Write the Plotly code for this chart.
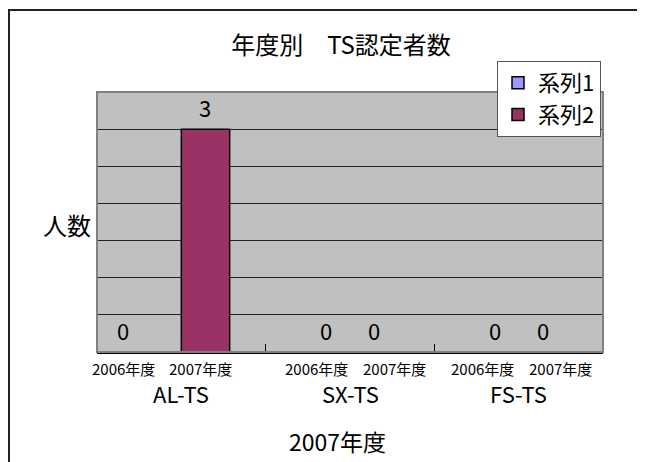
import plotly.graph_objects as go

# ---- data ----
groups = ["AL-TS", "SX-TS", "FS-TS"]
sub_labels = ["2006年度", "2007年度"]
series_names = ["系列1", "系列2"]
series1 = [0, 0, 0]
series2 = [3, 0, 0]
title_text = "年度別\u3000TS認定者数"
y_title = "人数"
x_title = "2007年度"

OFF = 8  # page body margin
W, H = 645, 462
L, R, T, B = 89, 50, 84, 118
PW, PH = W - L - R, H - T - B
FONT = "Noto Sans CJK JP, Noto Sans, sans-serif"

def px_x(p):
    return (p - OFF - L) / PW

def px_y(p):
    return (H - B - (p - OFF)) / PH

fig = go.Figure()
colors = ["#9999FF", "#993366"]
for name, vals, col in zip(series_names, [series1, series2], colors):
    fig.add_trace(go.Bar(
        x=list(range(len(groups))), y=vals, name=name, legendgroup=name,
        marker=dict(color=col, line=dict(color="black", width=1.5)),
        hoverinfo="skip",
    ))

bargap = 0.427
annotations = []
bar_w = (1 - bargap) / 2
label_shift = {(0, 0): -34}
for si, vals in enumerate([series1, series2]):
    for gi, v in enumerate(vals):
        xc = gi + (si - 0.5) * bar_w
        annotations.append(dict(
            x=xc, y=v, xref="x", yref="y", text=str(v), showarrow=False,
            yanchor="middle", yshift=22, xshift=label_shift.get((gi, si), 0),
            font=dict(family=FONT, size=22, color="black")))

# sub category labels
sub_px = [[123, 200], [316, 394], [482, 560]]
for gi in range(len(groups)):
    for k, lab in enumerate(sub_labels):
        annotations.append(dict(
            x=px_x(sub_px[gi][k]), y=px_y(368), xref="paper", yref="paper",
            text=lab, showarrow=False, xanchor="center", yanchor="middle",
            font=dict(family=FONT, size=15, color="black")))
# main category labels
for gi, g in enumerate(groups):
    annotations.append(dict(
        x=gi, y=px_y(393), xref="x", yref="paper", text=g, showarrow=False,
        xanchor="center", yanchor="middle",
        font=dict(family=FONT, size=22, color="black")))
# axis titles
annotations.append(dict(x=px_x(67), y=px_y(224), xref="paper", yref="paper",
                        text=y_title, showarrow=False, xanchor="center", yanchor="middle",
                        font=dict(family=FONT, size=24, color="black")))
annotations.append(dict(x=px_x(337), y=px_y(441), xref="paper", yref="paper",
                        text=x_title, showarrow=False, xanchor="center", yanchor="middle",
                        font=dict(family=FONT, size=23, color="black")))

shapes = [
    dict(type="rect", xref="paper", yref="paper", x0=0, x1=1, y0=0, y1=1,
         line=dict(color="#808080", width=2), layer="above"),
    # chart outer border (figure edge)
    dict(type="rect", xref="paper", yref="paper", x0=px_x(9), x1=px_x(OFF + W - 1),
         y0=px_y(OFF + H - 1), y1=px_y(10), line=dict(color="#222222", width=2)),
]

fig.update_layout(
    width=W, height=H,
    margin=dict(l=L, r=R, t=T, b=B, pad=0),
    paper_bgcolor="white", plot_bgcolor="#C0C0C0",
    barmode="group", bargap=bargap, bargroupgap=0,
    font=dict(family=FONT, color="black"),
    title=dict(text=title_text, x=(341 - OFF) / W, xref="container", xanchor="center",
               y=1 - (46 - OFF) / H, yref="container", yanchor="middle",
               font=dict(family=FONT, size=24, color="black")),
    xaxis=dict(type="linear", range=[-0.5, 2.5], tickvals=[-0.5, 0.5, 1.5, 2.5],
               showticklabels=False, ticks="inside", ticklen=8, tickcolor="black",
               tickwidth=1, showgrid=False, zeroline=False,
               showline=True, linecolor="black", linewidth=1.5),
    yaxis=dict(range=[0, 3.5], tickvals=[0.5, 1, 1.5, 2, 2.5, 3], showticklabels=False,
               showgrid=True, gridcolor="#222222", gridwidth=1, zeroline=False,
               ticks="", showline=False),
    legend=dict(x=px_x(497), y=px_y(61), xanchor="left", yanchor="top",
                bgcolor="white", bordercolor="#555555", borderwidth=1,
                font=dict(family=FONT, size=22, color="black"),
                tracegroupgap=4, traceorder="normal"),
    annotations=annotations, shapes=shapes, showlegend=True,
)

fig.write_html("out.html")
